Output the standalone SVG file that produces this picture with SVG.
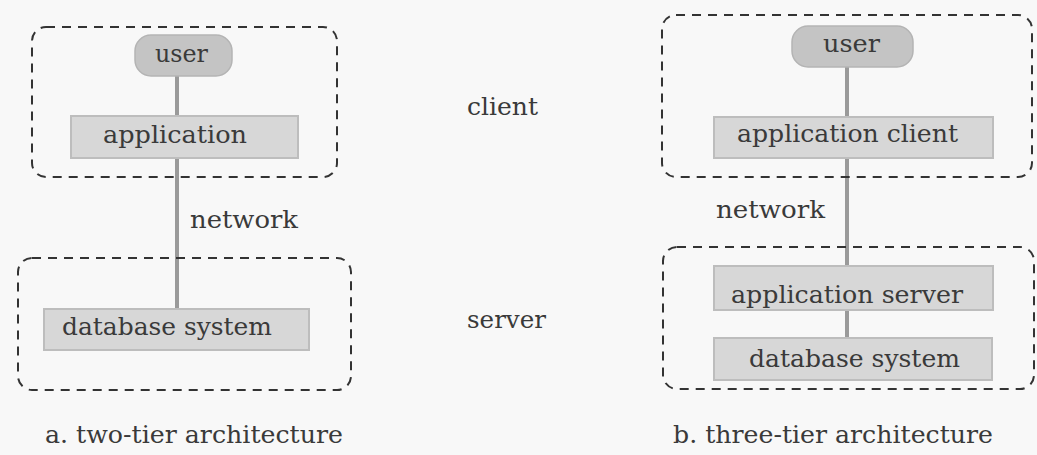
<svg xmlns="http://www.w3.org/2000/svg" width="1037" height="455" viewBox="0 0 1037 455">
<style>
.bg{fill:#f8f8f8}
.tier{fill:none;stroke:#333;stroke-width:2;stroke-dasharray:9 7}
.box{fill:#d7d7d7;stroke:#bdbdbd;stroke-width:2}
.pill{fill:#c4c4c4;stroke:#b4b4b4;stroke-width:1.5}
.conn{stroke:#9a9a9a;stroke-width:4;fill:none}
text{font-family:"DejaVu Serif","Liberation Serif",serif;font-size:24px;fill:#3a3a3a}
</style>
<rect class="bg" x="0" y="0" width="1037" height="455"/>
<g id="connectors">
<line class="conn" x1="177" y1="76" x2="177" y2="309"/>
<line class="conn" x1="847" y1="67" x2="847" y2="266"/>
<line class="conn" x1="847" y1="310" x2="847" y2="338"/>
</g>
<g id="client-tier-a"><rect class="tier" x="32" y="27" width="305" height="150" rx="14"/></g>
<g id="server-tier-a"><rect class="tier" x="18" y="258" width="333" height="132" rx="14"/></g>
<g id="client-tier-b"><rect class="tier" x="662" y="15" width="370" height="162" rx="14"/></g>
<g id="server-tier-b"><rect class="tier" x="663" y="247" width="371" height="142" rx="14"/></g>
<g id="user-a"><rect class="pill" x="135" y="35" width="97" height="41" rx="16"/><text x="155" y="62" textLength="53" lengthAdjust="spacingAndGlyphs">user</text></g>
<g id="application-a"><rect class="box" x="71" y="116" width="227" height="42"/><text x="103" y="143" textLength="144" lengthAdjust="spacingAndGlyphs">application</text></g>
<g id="database-a"><rect class="box" x="44" y="309" width="265" height="41"/><text x="62" y="335" textLength="210" lengthAdjust="spacingAndGlyphs">database system</text></g>
<g id="user-b"><rect class="pill" x="792" y="26" width="121" height="41" rx="16"/><text x="823" y="52" textLength="57" lengthAdjust="spacingAndGlyphs">user</text></g>
<g id="app-client-b"><rect class="box" x="714" y="117" width="279" height="41"/><text x="737" y="142" textLength="221" lengthAdjust="spacingAndGlyphs">application client</text></g>
<g id="app-server-b"><rect class="box" x="714" y="266" width="279" height="44"/><text x="731" y="303" textLength="232" lengthAdjust="spacingAndGlyphs">application server</text></g>
<g id="database-b"><rect class="box" x="714" y="338" width="278" height="42"/><text x="749" y="367" textLength="211" lengthAdjust="spacingAndGlyphs">database system</text></g>
<g id="labels">
<text x="467" y="115" textLength="71" lengthAdjust="spacingAndGlyphs">client</text>
<text x="467" y="328" textLength="79" lengthAdjust="spacingAndGlyphs">server</text>
<text x="190" y="228" textLength="108" lengthAdjust="spacingAndGlyphs">network</text>
<text x="716" y="218" textLength="109" lengthAdjust="spacingAndGlyphs">network</text>
<text x="45" y="443" textLength="298" lengthAdjust="spacingAndGlyphs">a.  two-tier architecture</text>
<text x="673" y="443" textLength="320" lengthAdjust="spacingAndGlyphs">b.  three-tier architecture</text>
</g>
</svg>
